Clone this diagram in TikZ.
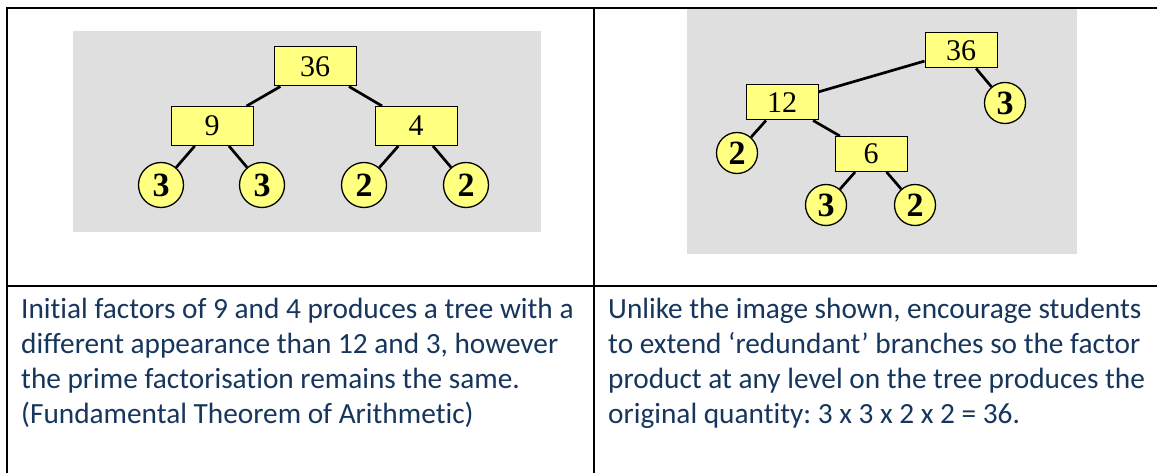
\documentclass[tikz,border=0pt]{standalone}
\usepackage{fontspec}
\setmainfont{Carlito}[Ligatures=NoCommon]
\newfontfamily\tms{Liberation Serif}
\definecolor{boxyellow}{HTML}{FFFF80}
\definecolor{panelgray}{HTML}{DFDFDF}
\definecolor{captionblue}{HTML}{17365D}
\frenchspacing
\begin{document}
\begin{tikzpicture}[x=1pt,y=-1pt,
  box/.style={draw=black, line width=1pt, fill=boxyellow, minimum width=82pt, minimum height=39pt, inner sep=0pt, font=\tms\fontsize{30}{30}\selectfont},
  sbox/.style={box, minimum width=72pt, minimum height=35pt},
  leaf/.style={circle, draw=black, line width=1.3pt, fill=boxyellow, minimum size=45pt, inner sep=0pt, font=\tms\bfseries\fontsize{34}{34}\selectfont},
  sleaf/.style={leaf, minimum size=41pt},
  branch/.style={line width=2.7pt, black},
  tablerule/.style={line width=2pt, black},
  caption/.style={anchor=base west, inner sep=0pt, text=captionblue, font=\fontsize{29.3}{29.3}\selectfont}]
\useasboundingbox (0,0) rectangle (1157,473);
\fill[white] (0,0) rectangle (1157,473);
% gray panels
\fill[panelgray] (73,31) rectangle (541,232);
\fill[panelgray] (687,9) rectangle (1077,254);
% left tree
\node[box] (L36) at (315,66.5) {36};
\node[box] (L9) at (212,126) {9};
\node[box] (L4) at (416,126) {4};
\node[leaf] (La) at (161,185) {3};
\node[leaf] (Lb) at (262,185) {3};
\node[leaf] (Lc) at (364,185) {2};
\node[leaf] (Ld) at (466,185) {2};
\draw[branch] (L36) -- (L9);
\draw[branch] (L36) -- (L4);
\draw[branch] (L9) -- (La);
\draw[branch] (L9) -- (Lb);
\draw[branch] (L4) -- (Lc);
\draw[branch] (L4) -- (Ld);
% right tree
\node[sbox] (R36) at (961,50.5) {36};
\node[sbox] (R12) at (782,102.5) {12};
\node[sbox] (R6) at (871,154) {6};
\node[sleaf] (Ra) at (1005,103) {3};
\node[sleaf] (Rb) at (737,153) {2};
\node[sleaf] (Rc) at (826,205) {3};
\node[sleaf] (Rd) at (915,205) {2};
\draw[branch] (R36) -- (R12);
\draw[branch] (R36) -- (Ra);
\draw[branch] (R12) -- (Rb);
\draw[branch] (R12) -- (R6);
\draw[branch] (R6) -- (Rc);
\draw[branch] (R6) -- (Rd);
% captions
\node[caption] (c1) at (21,318) {Initial factors of 9 and 4 produces a tree with a};
\node[caption] (c2) at (21,353) {different appearance than 12 and 3, however};
\node[caption] (c3) at (21,388) {the prime factorisation remains the same.};
\node[caption] (c4) at (21,423) {(Fundamental Theorem of Arithmetic)};
\node[caption] (d1) at (608,318) {Unlike the image shown, encourage students};
\node[caption] (d2) at (608,353) {to extend ‘redundant’ branches so the factor};
\node[caption] (d3) at (608,388) {product at any level on the tree produces the};
\node[caption] (d4) at (608,423) {original quantity: 3 x 3 x 2 x 2 = 36.};
% table rules
\draw[tablerule] (6,8) -- (1157,8);
\draw[tablerule] (7,7) -- (7,473);
\draw[tablerule] (594,8) -- (594,473);
\draw[tablerule] (6,286) -- (1157,286);
\end{tikzpicture}
\end{document}
